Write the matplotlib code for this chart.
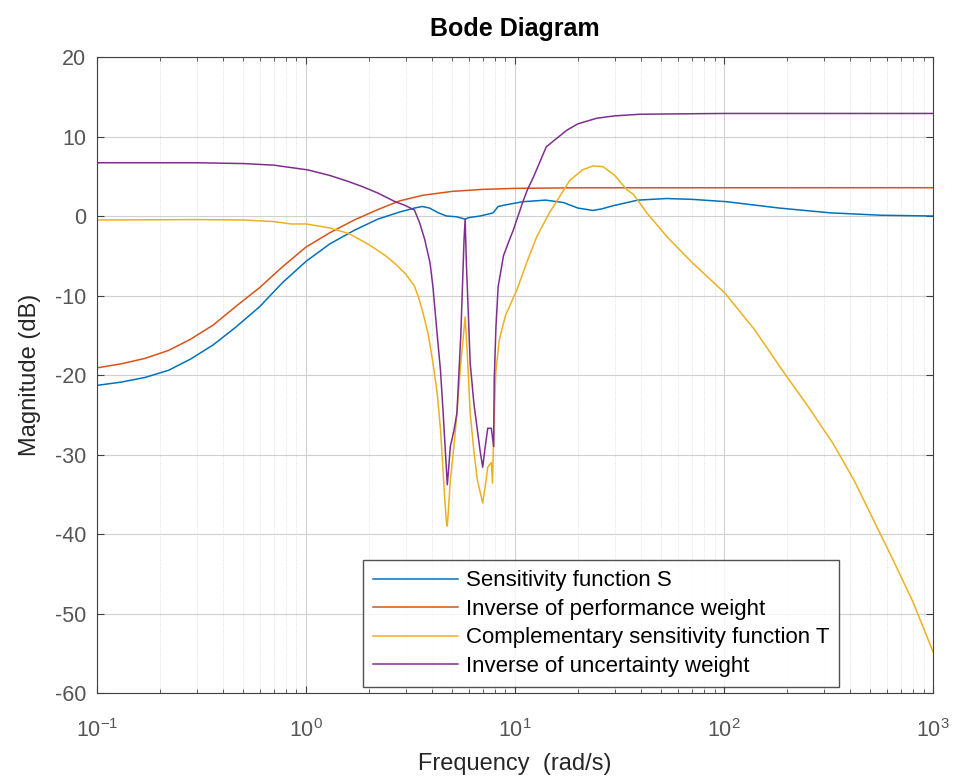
import matplotlib
matplotlib.use("Agg")
import matplotlib.pyplot as plt
import numpy as np

plt.rcParams['font.family'] = ['Liberation Sans', 'DejaVu Sans']
plt.rcParams['axes.unicode_minus'] = False

# Sensitivity function S (blue)
freq_S = [0.1, 0.13, 0.17, 0.22, 0.28, 0.36, 0.46, 0.6, 0.77, 1.0, 1.3, 1.7, 2.2, 2.8,
          3.3, 3.6, 3.9, 4.3, 4.7, 5.27, 5.6, 5.77, 6.0, 6.8, 7.6, 7.85, 8.3, 9.0,
          10.9, 14, 17, 20, 23.6, 26, 29.5, 38.7, 53, 70, 103, 184, 322, 562, 1000]
mag_S = [-21.3, -20.9, -20.3, -19.4, -18.0, -16.2, -14.0, -11.4, -8.4, -5.7, -3.5, -1.8, -0.4, 0.5,
         1.0, 1.2, 1.0, 0.4, 0.0, -0.1, -0.3, -0.4, -0.2, 0.0, 0.3, 0.4, 1.2, 1.4,
         1.8, 2.0, 1.7, 1.0, 0.7, 0.9, 1.3, 2.0, 2.2, 2.1, 1.8, 1.0, 0.4, 0.1, 0.0]

# Inverse of performance weight (orange)
freq_Wp = [0.1, 0.13, 0.17, 0.22, 0.28, 0.36, 0.46, 0.6, 0.77, 1.0, 1.3, 1.7, 2.2, 2.8,
           3.6, 5, 7, 10, 20, 1000]
mag_Wp = [-19.1, -18.6, -17.9, -16.9, -15.5, -13.7, -11.4, -9.0, -6.4, -3.9, -2.1, -0.5, 0.8, 1.9,
          2.6, 3.1, 3.35, 3.48, 3.55, 3.56]

# Complementary sensitivity function T (yellow)
freq_T = [0.1, 0.3, 0.5, 0.7, 0.85, 1.0, 1.3, 1.6, 2.0, 2.4, 2.67, 3.0, 3.3, 3.45, 3.63, 3.85, 4.05, 4.25,
          4.4, 4.5, 4.6, 4.7, 4.74, 4.8, 4.9, 5.1, 5.27, 5.5, 5.77, 5.9, 6.1, 6.35, 6.6,
          7.0, 7.2, 7.4, 7.7, 7.8, 7.95, 8.1, 8.4, 9.0, 10.2, 11.5, 12.7, 14.6, 18.3, 21,
          23.6, 26.4, 30, 34.3, 36.9, 42.7, 53.3, 70, 101, 140, 190, 250, 332, 420, 518,
          650, 800, 1000]
mag_T = [-0.5, -0.45, -0.5, -0.7, -1.0, -1.0, -1.5, -2.2, -3.6, -5.0, -6.0, -7.3, -8.8, -10.2, -12.2, -15.0, -18.5, -22.5,
         -26.9, -31.0, -35.3, -38.6, -39.0, -37.0, -33.2, -29.0, -24.8, -18.5, -12.7, -17.0, -24.8, -29.5, -33.2,
         -36.1, -34.0, -31.6, -31.0, -33.6, -24.8, -19.5, -15.6, -12.5, -9.3, -5.5, -2.6, 0.4, 4.5, 5.8,
         6.3, 6.2, 5.1, 3.3, 2.7, 0.4, -2.6, -5.8, -9.7, -14.3, -19.4, -23.8, -28.6, -33.3, -38.2,
         -43.5, -48.5, -54.8]

# Inverse of uncertainty weight (purple)
freq_Wu = [0.1, 0.2, 0.3, 0.5, 0.7, 1.02, 1.3, 1.57, 1.86, 2.2, 2.67, 3.0, 3.3, 3.5, 3.7,
           3.92, 4.05, 4.22, 4.4, 4.53, 4.65, 4.74, 4.82, 4.9, 5.1, 5.27, 5.5, 5.7, 5.77,
           5.85, 6.1, 6.35, 6.6, 6.8, 7.0, 7.2, 7.4, 7.7, 7.9, 7.95, 8.1, 8.3, 8.8, 9.4,
           9.8, 10.9, 11.5, 12.2, 14.1, 17.7, 20, 24.6, 30, 39.6, 60, 100, 1000]
mag_Wu = [6.7, 6.7, 6.7, 6.6, 6.4, 5.8, 5.1, 4.4, 3.7, 2.9, 1.8, 1.3, 0.75, -0.9, -3.0,
          -5.9, -9.0, -14.3, -19.5, -24.8, -30.0, -33.8, -31.5, -29.0, -27.0, -24.8, -15.0, -3.0, -0.4,
          -6.0, -18.5, -23.5, -26.9, -29.5, -31.6, -29.0, -26.7, -26.7, -29.0, -20.6, -14.0, -8.9, -5.0, -3.0,
          -1.8, 1.8, 3.4, 4.8, 8.7, 10.8, 11.6, 12.3, 12.6, 12.8, 12.85, 12.9, 12.9]

labels = ["Sensitivity function S", "Inverse of performance weight",
          "Complementary sensitivity function T", "Inverse of uncertainty weight"]
colors = ["#0072BD", "#D95319", "#EDB120", "#7E2F8E"]

fig = plt.figure(figsize=(9.57, 7.8), dpi=100)
ax = fig.add_axes([0.1014, 0.1115, 0.8736, 0.8154])

for fr, mg, lab, c in zip([freq_S, freq_Wp, freq_T, freq_Wu],
                          [mag_S, mag_Wp, mag_T, mag_Wu], labels, colors):
    ax.plot(fr, mg, color=c, lw=1.1, label=lab)

ax.set_xscale('log')
ax.set_xlim(0.1, 1000)
ax.set_ylim(-60, 20)
ax.set_yticks(np.arange(-60, 21, 10))

# MATLAB-like grid
ax.grid(True, which='major', color='#d0d0d0', lw=0.8)
ax.grid(True, which='minor', color='#d8d8d8', lw=0.6, ls=':')
ax.set_axisbelow(True)

tick_col = '#555555'
ax.tick_params(axis='both', which='both', direction='in', colors='#404040',
               labelcolor=tick_col, top=True, right=True)
ax.tick_params(axis='both', which='major', labelsize=15.5, length=5)
ax.tick_params(axis='both', which='minor', length=3)
ax.tick_params(axis='x', pad=19)
ax.tick_params(axis='y', pad=8)
for s in ax.spines.values():
    s.set_color('#404040')
    s.set_linewidth(0.8)

ax.set_xlabel("Frequency  (rad/s)", fontsize=17, color='#262626', labelpad=8)
ax.set_ylabel("Magnitude (dB)", fontsize=17, color='#262626', labelpad=10)
ax.set_title("Bode Diagram", fontsize=18, fontweight='bold', pad=15)

leg = ax.legend(loc='lower right', bbox_to_anchor=(0.8876, 0.0094), borderaxespad=0,
                fontsize=16, frameon=True, fancybox=False, handlelength=3.8,
                labelspacing=0.34, handletextpad=0.35, borderpad=0.45)
leg.get_frame().set_edgecolor('#262626')
leg.get_frame().set_linewidth(1.0)

fig.savefig("out.png", dpi=100)
